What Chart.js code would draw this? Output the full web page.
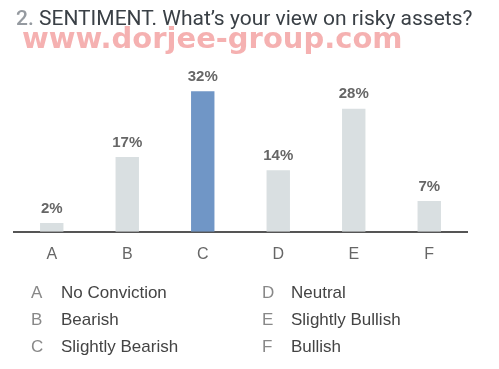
<!DOCTYPE html>
<html>
<head>
<meta charset="utf-8">
<script src="https://cdn.jsdelivr.net/npm/chart.js@4.4.1/dist/chart.umd.min.js"></script>
<style>
    body { margin: 0; background: #fff; width: 499px; height: 369px; overflow: hidden; position: relative; }
    #title { position: absolute; left: 16px; top: 6px; font: 21px Roboto, sans-serif; color: #3a4046; white-space: nowrap; z-index: 2; }
    #title .num { color: #959aa0; font-weight: 500; }
    #mark { position: absolute; left: 22px; top: 21px; font: bold 29px "DejaVu Sans", sans-serif; color: rgba(238, 125, 125, 0.6); white-space: nowrap; z-index: 1; }
    #wrap { position: absolute; left: 0; top: 0; width: 499px; height: 284px; }
    .leg { position: absolute; font: 17px "Liberation Sans", Arial, sans-serif; color: #444; white-space: nowrap; }
    .leg b { font-weight: normal; color: #888; display: inline-block; }
</style>
</head>
<body>
<div id="mark">www.dorjee-group.com</div>
<div id="title"><span class="num">2.</span> SENTIMENT. What’s your view on risky assets?</div>
<div id="wrap"><canvas id="chart"></canvas></div>
<div id="legend"></div>

<script>
const categories = ['A', 'B', 'C', 'D', 'E', 'F'];
const answers = ['No Conviction', 'Bearish', 'Slightly Bearish', 'Neutral', 'Slightly Bullish', 'Bullish'];
const shares = [2, 17, 32, 14, 28, 7];
const highlighted = 'C';

// legend in two columns, like the survey printout
const legendBox = document.getElementById('legend');
categories.forEach((c, i) => {
    const col = Math.floor(i / 3), row = i % 3;
    const el = document.createElement('div');
    el.className = 'leg';
    el.style.left = (col ? 262 : 31) + 'px';
    el.style.top = (283 + row * 27) + 'px';
    el.innerHTML = `<b style="width:${col ? 29 : 30}px">${c}</b>${answers[i]}`;
    legendBox.appendChild(el);
});

// percentage above every bar
const valueLabels = {
    id: 'valueLabels',
    afterDatasetsDraw(chart) {
        const ctx = chart.ctx;
        const meta = chart.getDatasetMeta(0);
        ctx.save();
        ctx.font = 'bold 15px "Liberation Sans", Arial, sans-serif';
        ctx.fillStyle = '#666';
        ctx.textAlign = 'center';
        ctx.textBaseline = 'bottom';
        meta.data.forEach((bar, i) => {
            ctx.fillText(shares[i] + '%', bar.x, bar.y - 7);
        });
        ctx.restore();
    }
};

new Chart(document.getElementById('chart').getContext('2d'), {
    type: 'bar',
    data: {
        labels: categories,
        datasets: [{
            data: shares,
            backgroundColor: categories.map(c => c === highlighted ? '#7096c6' : '#d9dfe1'),
            barPercentage: 0.31,
            categoryPercentage: 1
        }]
    },
    options: {
        responsive: true,
        maintainAspectRatio: false,
        animation: false,
        layout: { padding: { left: 14, right: 32, top: 56, bottom: 7 } },
        plugins: { legend: { display: false }, tooltip: { enabled: false } },
        scales: {
            x: {
                grid: { display: false, drawTicks: false },
                border: { color: '#555', width: 2 },
                ticks: { color: '#666', font: { size: 16, family: '"Liberation Sans", Arial, sans-serif' }, padding: 13 }
            },
            y: { display: false, min: 0, max: 40 }
        }
    },
    plugins: [valueLabels]
});
</script>
</body>
</html>
